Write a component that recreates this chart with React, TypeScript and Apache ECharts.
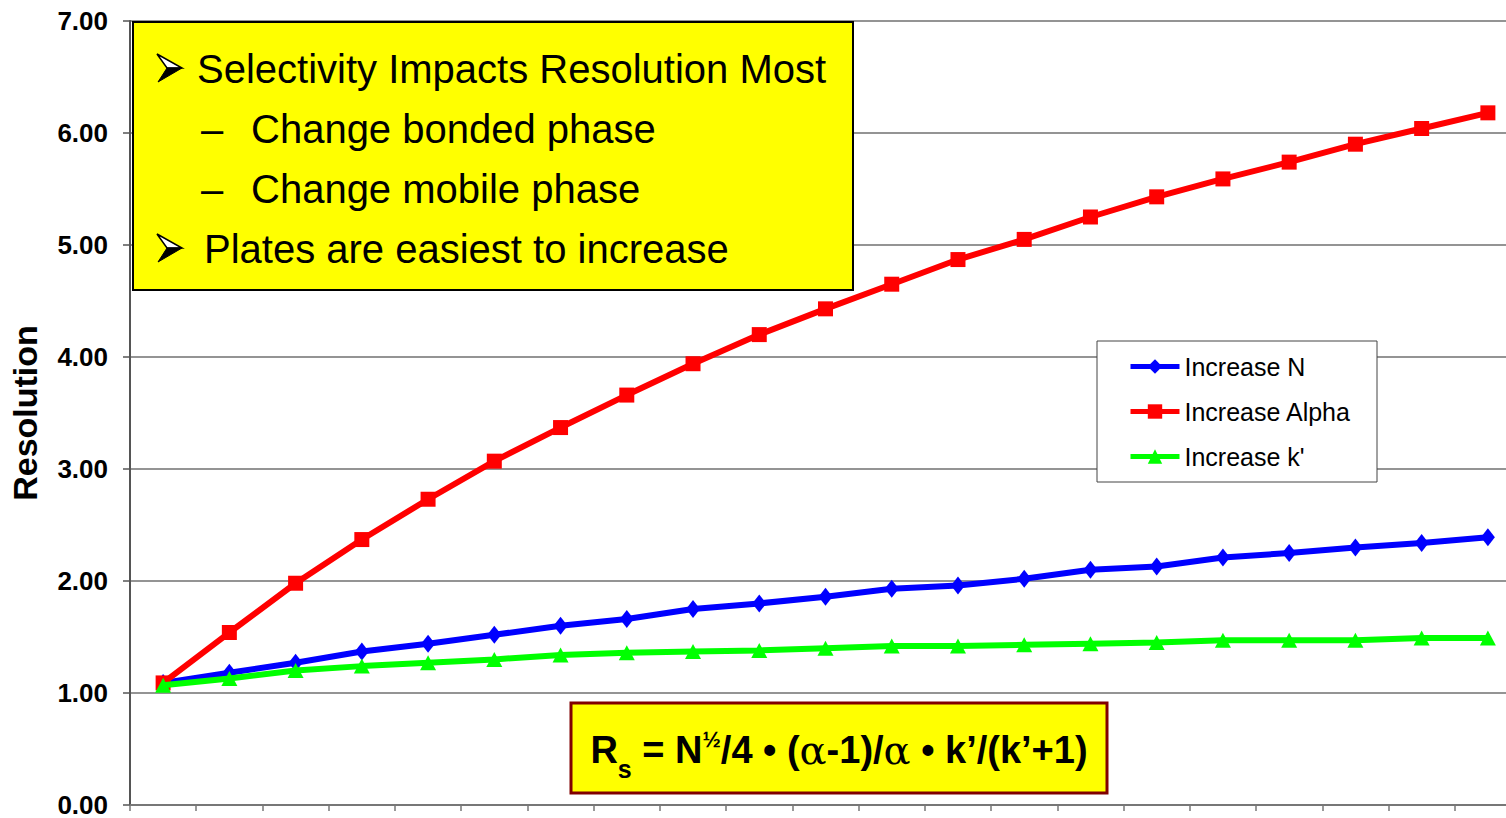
import React, { useEffect, useRef } from "react";
import * as echarts from "echarts";

const FONT = "'Liberation Sans', Arial, Helvetica, sans-serif";

const categories = [
  "1", "2", "3", "4", "5", "6", "7", "8", "9", "10", "11",
  "12", "13", "14", "15", "16", "17", "18", "19", "20", "21",
];

const increaseN = [
  1.09, 1.18, 1.27, 1.37, 1.44, 1.52, 1.6, 1.66, 1.75, 1.8, 1.86,
  1.93, 1.96, 2.02, 2.1, 2.13, 2.21, 2.25, 2.3, 2.34, 2.39,
];

const increaseAlpha = [
  1.09, 1.54, 1.98, 2.37, 2.73, 3.07, 3.37, 3.66, 3.94, 4.2, 4.43,
  4.65, 4.87, 5.05, 5.25, 5.43, 5.59, 5.74, 5.9, 6.04, 6.18,
];

const increaseK = [
  1.07, 1.13, 1.2, 1.24, 1.27, 1.3, 1.34, 1.36, 1.37, 1.38, 1.4,
  1.42, 1.42, 1.43, 1.44, 1.45, 1.47, 1.47, 1.47, 1.49, 1.49,
];

const seriesNames = ["Increase N", "Increase Alpha", "Increase k'"];
const seriesColors = ["#0000FF", "#FF0000", "#00FF00"];

const yMin = 0;
const yMax = 7;
const yInterval = 1;
const yAxisTitle = "Resolution";

const boxLine1 = "Selectivity Impacts Resolution Most";
const boxLine2 = "Change bonded phase";
const boxLine3 = "Change mobile phase";
const boxLine4 = "Plates are easiest to increase";
const dash = "\u2013";

function arrowBullet(x: number, y: number) {
  return [
    {
      type: "polygon",
      z: 102,
      shape: { points: [[x, y], [x + 25, y + 14], [x + 10, y + 14]] },
      style: { fill: "#FFFFFF", stroke: "#000000", lineWidth: 1.5 },
    },
    {
      type: "polygon",
      z: 102,
      shape: { points: [[x + 10, y + 14], [x + 25, y + 14], [x + 1, y + 28]] },
      style: { fill: "#000000", stroke: "#000000", lineWidth: 1 },
    },
  ];
}

function boxText(text: string, x: number, y: number) {
  return {
    type: "text",
    z: 102,
    x,
    y,
    style: {
      text,
      fontSize: 40,
      fontFamily: FONT,
      fill: "#000000",
      align: "left",
      verticalAlign: "middle",
    },
  };
}

export default function App() {
  const ref = useRef<HTMLDivElement>(null);

  useEffect(() => {
    if (!ref.current) return;
    const chart = echarts.init(ref.current, null, { renderer: "svg" });

    const symbols = ["diamond", "rect", "triangle"];
    const symbolSizes: any[] = [[14, 18], 15, [16, 15]];
    const datasets = [increaseN, increaseAlpha, increaseK];

    const tBold = { fontSize: 38, fontWeight: "bold", fontFamily: FONT, fill: "#000" };

    const option: any = {
      animation: false,
      backgroundColor: "#FFFFFF",
      grid: { left: 129, right: 0, top: 21, bottom: 12, containLabel: false },
      legend: {
        data: seriesNames,
        orient: "vertical",
        left: 1128,
        top: 354,
        padding: 0,
        itemWidth: 49,
        itemHeight: 18,
        itemGap: 20,
        selectedMode: false,
        z: 200,
        lineStyle: { width: 5 },
        textStyle: {
          fontSize: 25,
          lineHeight: 25,
          fontFamily: FONT,
          color: "#000000",
        },
      },
      xAxis: {
        type: "category",
        data: categories,
        boundaryGap: true,
        axisLabel: { show: false },
        axisTick: { show: true, length: 6, lineStyle: { color: "#777777", width: 1.5 } },
        axisLine: { show: true, lineStyle: { color: "#777777", width: 2 } },
        splitLine: { show: false },
      },
      yAxis: {
        type: "value",
        min: yMin,
        max: yMax,
        interval: yInterval,
        name: yAxisTitle,
        nameLocation: "middle",
        nameGap: 88,
        nameRotate: 90,
        nameTextStyle: {
          fontSize: 34,
          fontWeight: "bold",
          fontFamily: FONT,
          color: "#000000",
        },
        axisLabel: {
          formatter: (v: number) => v.toFixed(2),
          fontSize: 26,
          fontWeight: "bold",
          fontFamily: FONT,
          color: "#000000",
          margin: 22,
        },
        axisTick: { show: true, length: 7, lineStyle: { color: "#555555", width: 1.5 } },
        axisLine: { show: true, lineStyle: { color: "#555555", width: 2 } },
        splitLine: { show: true, lineStyle: { color: "#707070", width: 1.5 } },
      },
      series: datasets.map((d, i) => ({
        name: seriesNames[i],
        type: "line",
        data: d,
        symbol: symbols[i],
        symbolSize: symbolSizes[i],
        showAllSymbol: true,
        lineStyle: { width: 6, color: seriesColors[i] },
        itemStyle: { color: seriesColors[i] },
        emphasis: { disabled: true },
        z: 2 + i,
      })),
      graphic: [
        {
          type: "rect",
          z: 100,
          shape: { x: 133, y: 22, width: 720, height: 268 },
          style: { fill: "#FFFF00", stroke: "#000000", lineWidth: 2 },
        },
        ...arrowBullet(157, 54),
        boxText(boxLine1, 197, 69),
        boxText(dash, 201, 129),
        boxText(boxLine2, 251, 129),
        boxText(dash, 201, 189),
        boxText(boxLine3, 251, 189),
        ...arrowBullet(157, 234),
        boxText(boxLine4, 204, 249),
        {
          type: "rect",
          z: 100,
          shape: { x: 1097, y: 341, width: 280, height: 141 },
          style: { fill: "#FFFFFF", stroke: "#444444", lineWidth: 1 },
        },
        {
          type: "rect",
          z: 100,
          shape: { x: 571, y: 703, width: 536, height: 90 },
          style: { fill: "#FFFF00", stroke: "#800000", lineWidth: 3 },
        },
        {
          type: "text",
          z: 102,
          x: 839,
          y: 750,
          style: {
            text:
              "{t|R}{s|s}{t| = N}{h|\u00BD}{t|/4 \u2022 (}{a|\u03B1}{t|-1)/}{a|\u03B1}{t| \u2022 k\u2019/(k\u2019+1)}",
            align: "center",
            verticalAlign: "middle",
            fontFamily: FONT,
            fontSize: 38,
            fontWeight: "bold",
            fill: "#000",
            rich: {
              t: tBold,
              s: { fontSize: 25, fontWeight: "bold", fontFamily: FONT, fill: "#000", padding: [38, 0, 0, 0] },
              h: { fontSize: 22, fontWeight: "bold", fontFamily: FONT, fill: "#000", padding: [0, 0, 22, 0] },
              a: { fontSize: 40, fontWeight: "normal", fontFamily: "'DejaVu Serif', serif", fill: "#000" },
            },
          },
        },
      ],
    };

    chart.setOption(option);
    return () => {
      chart.dispose();
    };
  }, []);

  return (
    <div
      style={{
        position: "absolute",
        left: 0,
        top: 0,
        width: "1506px",
        height: "818px",
        overflow: "hidden",
      }}
    >
      <div ref={ref} style={{ width: "1521px", height: "818px" }} />
    </div>
  );
}
